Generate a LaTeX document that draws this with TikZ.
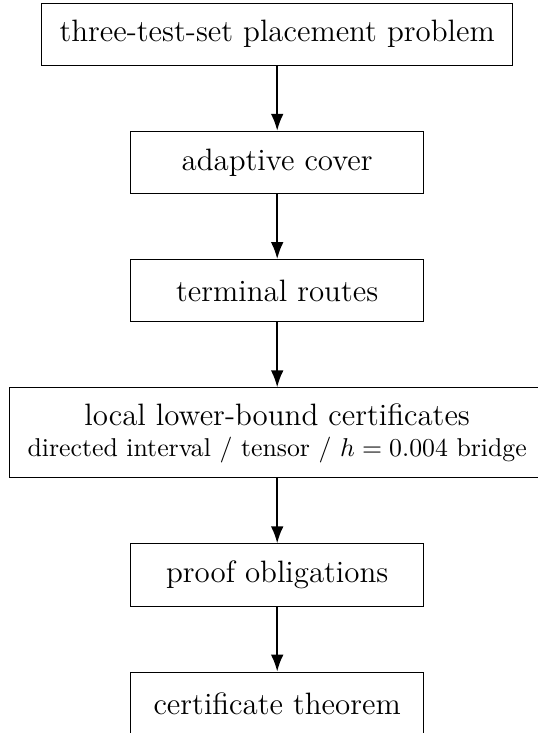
\documentclass[tikz,border=0pt]{standalone}
\usepackage{amsmath}
\usepackage{tikz}
\usetikzlibrary{positioning,calc,arrows.meta}

\tikzset{
  stage/.style={draw, font=\large, inner xsep=7pt, inner ysep=6pt,
    minimum width=4cm, minimum height=0.85cm, align=center},
  link/.style={-{Latex}, thick}
}

\begin{document}
\begin{tikzpicture}[node distance=0.885cm]
\node [stage] (problem) {three-test-set placement problem};
\node [stage, below=of problem] (cover) {adaptive cover};
\node [stage, below=of cover] (routes) {terminal routes};
\node [stage, font=\normalsize, below=of routes] (local)
  {{\large local lower-bound certificates}\\
  directed interval / tensor / $h = 0.004$ bridge};
\node [stage, below=of local] (obligations) {proof obligations};
\node [stage, below=of obligations] (theorem) {certificate theorem};

\draw [link] (problem) -- (cover);
\draw [link] (cover) -- (routes);
\draw [link] (routes) -- (local);
\draw [link] (local) -- (obligations);
\draw [link] (obligations) -- (theorem);

% crop as in the original
\coordinate (corner) at ($(local.west |- problem.north)+(-3.5pt,1pt)$);
\pgfresetboundingbox
\useasboundingbox (corner) rectangle ++(208.7pt,-284.4pt);
\end{tikzpicture}
\end{document}
